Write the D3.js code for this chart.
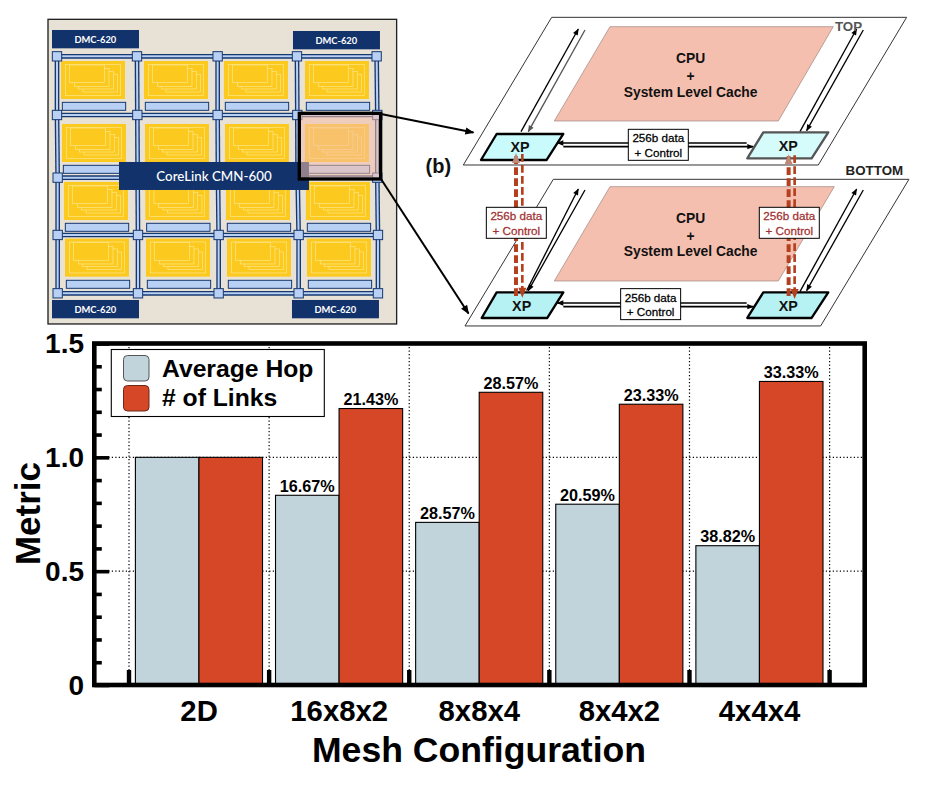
<!DOCTYPE html>
<html><head><meta charset="utf-8">
<script src="https://cdn.jsdelivr.net/npm/d3@7"></script>
<style>
html,body{margin:0;padding:0;background:#fff;overflow:hidden}
svg{display:block}
text{font-family:"Liberation Sans",Arial,sans-serif}
</style></head><body>
<script>
// ---------- chart data ----------
const categories = ["2D","16x8x2","8x8x4","8x4x2","4x4x4"];
const seriesNames = ["Average Hop","# of Links"];
const averageHop = [1.0,0.8333,0.7143,0.7941,0.6118];
const numLinks = [1.0,1.2143,1.2857,1.2333,1.3333];
const hopLabels = ["","16.67%","28.57%","20.59%","38.82%"];
const linkLabels = ["","21.43%","28.57%","23.33%","33.33%"];
const yMajorTicks = [0,0.5,1.0,1.5];
const yMinorTicks = [0.1,0.2,0.3,0.4,0.6,0.7,0.8,0.9,1.1,1.2,1.3,1.4];
const yGridTicks = [0.5,1.0];
const seriesColors = ["#c1d4dc","#d64727"];

// ---------- left schematic (units: 1/3 px) ----------
const meshRows = [
  {y:139,xs:[51,291,533,771,1010]},
  {y:315,xs:[51,292,533,772,1012]},
  {y:503,xs:[53,293,534,773,1012]},
  {y:675,xs:[53,294,536,776,1014]},
  {y:850,xs:[53,294,536,776,1014]}];
const tileRows = [
  {y:153,barY:277,xs:[63,312,552,795]},
  {y:342,barY:466,xs:[66,315,555,795]},
  {y:516,barY:640,xs:[72,316,558,798]},
  {y:686,barY:811,xs:[75,318,561,801]}];
const tileStack = [[66,40],[53,31],[40,23],[26,12]];
const dmcBoxes = [[36,60],[759,63],[36,870],[756,870]];

// ---------- right schematic (units: 1/3 px) ----------
const planes = [
  [[425,22],[1490,22],[1225,465],[160,465]],
  [[430,508],[1497,508],[1232,948],[165,948]]];
const cachePanels = [
  {pts:[[600,50],[1270,50],[1105,333],[433,333]],x:842,ys:[145,200,247]},
  {pts:[[600,530],[1273,530],[1105,813],[433,813]],x:842,ys:[625,678,724]}];
const xpNodes = [
  {pts:[[260,372],[460,372],[410,450],[213,450]],tx:330,ty:412,fill:"#c9fbfd",stroke:"#000"},
  {pts:[[1060,367],[1255,367],[1205,445],[1012,445]],tx:1135,ty:408,fill:"#d6fbfb",stroke:"#555"},
  {pts:[[260,847],[460,847],[412,924],[215,924]],tx:335,ty:887,fill:"#b6f2f4",stroke:"#000"},
  {pts:[[1060,847],[1255,847],[1205,924],[1012,924]],tx:1135,ty:887,fill:"#b6f2f4",stroke:"#000"}];
const planeArrows = [
  [333,365,505,57,"#000"],[525,60,355,365,"#555"],
  [1170,365,1340,57,"#000"],[1360,60,1190,362,"#000"],
  [350,842,505,537,"#000"],[525,540,355,842,"#000"],
  [1170,845,1340,537,"#000"],[1360,540,1190,842,"#000"]];
const busArrows = [
  [1010,399,442,399],[460,410,1030,410],
  [1010,879,442,879],[460,890,1030,890]];
const verticalLinks = [
  {x:318,y1:858,y2:432,w:12,head:"aL"},{x:337,y1:432,y2:860,w:8,head:"aR"},
  {x:1136,y1:858,y2:436,w:12,head:"aL"},{x:1154,y1:436,y2:864,w:8,head:"aR"}];
const dataBoxes = [
  {x:655,y:358,color:"#000"},{x:632,y:836,color:"#000"},
  {x:229,y:592,color:"#a23232"},{x:1048,y:592,color:"#a23232"}];

// ---------- page ----------
const W=928,H=786;
const svg=d3.select("body").append("svg").attr("width",W).attr("height",H);
svg.append("rect").attr("width",W).attr("height",H).attr("fill","#fff");
const defs=svg.append("defs");
function marker(id,color,mw,mh){
  defs.append("marker").attr("id",id).attr("viewBox","0 0 10 10").attr("refX",9).attr("refY",5)
    .attr("markerUnits","userSpaceOnUse").attr("markerWidth",mw).attr("markerHeight",mh).attr("orient","auto")
    .append("path").attr("d","M0,1L10,5L0,9Z").attr("fill",color);
}
marker("aK","#000",24,20);marker("aG","#555",24,20);marker("aR","#b5401f",34,30);marker("aL","#c08878",34,30);
marker("aBigS","#000",11,9);
const mid={"#000":"aK","#555":"aG"};
const poly=p=>p.map(d=>d.join(",")).join(" ");

// ---------- left schematic ----------
const L=svg.append("g").attr("transform","translate(40,10) scale(0.3333)");
L.append("rect").attr("x",24).attr("y",28).attr("width",1046).attr("height",914)
  .attr("fill","#e8e1d5").attr("stroke","#222").attr("stroke-width",4);
L.selectAll(".dmc").data(dmcBoxes).join("g").each(function(d){
  const g=d3.select(this);
  g.append("rect").attr("x",d[0]).attr("y",d[1]).attr("width",261).attr("height",55).attr("fill","#12326b");
  g.append("text").attr("x",d[0]+130).attr("y",d[1]+38).attr("text-anchor","middle")
    .attr("fill","#fff").attr("font-size",28).attr("font-weight",700).style("font-family","Lato").text("DMC-620");
});
const linkNavy="#17386f",linkLight="#b9d0f5";
function meshLine(a,b){
  L.append("line").attr("x1",a[0]).attr("y1",a[1]).attr("x2",b[0]).attr("y2",b[1]).attr("stroke",linkNavy).attr("stroke-width",14);
  L.append("line").attr("x1",a[0]).attr("y1",a[1]).attr("x2",b[0]).attr("y2",b[1]).attr("stroke",linkLight).attr("stroke-width",6);
}
meshRows.forEach((r,i)=>{
  d3.pairs(r.xs).forEach(p=>meshLine([p[0],r.y],[p[1],r.y]));
  if(i<meshRows.length-1) r.xs.forEach((x,j)=>meshLine([x,r.y],[meshRows[i+1].xs[j],meshRows[i+1].y]));
});
tileRows.forEach(r=>r.xs.forEach(x=>{
  const g=L.append("g");
  g.append("rect").attr("x",x).attr("y",r.y).attr("width",192).attr("height",114).attr("fill","#fcc91f");
  g.append("rect").attr("x",x+13).attr("y",r.y+10).attr("width",165).attr("height",93)
    .attr("fill","none").attr("stroke","#fde88e").attr("stroke-width",2);
  tileStack.forEach(q=>{
    g.append("rect").attr("x",x+q[0]).attr("y",r.y+q[1]).attr("width",104).attr("height",53)
      .attr("fill","#fcc91f").attr("stroke","#fde88e").attr("stroke-width",2);
  });
  g.append("rect").attr("x",x+4).attr("y",r.barY).attr("width",190).attr("height",24)
    .attr("fill",linkLight).attr("stroke",linkNavy).attr("stroke-width",3);
}));
meshRows.forEach(r=>r.xs.forEach(x=>{
  L.append("rect").attr("x",x-14).attr("y",r.y-14).attr("width",28).attr("height",28)
    .attr("fill",linkLight).attr("stroke",linkNavy).attr("stroke-width",3);
}));
L.append("rect").attr("x",237).attr("y",456).attr("width",570).attr("height",84).attr("fill","#12326b");
L.append("text").attr("x",522).attr("y",514).attr("text-anchor","middle").attr("fill","#fff")
  .attr("font-size",40).attr("font-weight",500).style("font-family","Lato").text("CoreLink CMN-600");
L.append("rect").attr("x",778).attr("y",310).attr("width",244).attr("height",197)
  .attr("fill","#f5bda8").attr("fill-opacity",0.56).attr("stroke","#000").attr("stroke-width",10);

// ---------- right schematic ----------
const R=svg.append("g").attr("transform","translate(410,10) scale(0.3333)");
R.selectAll(".plane").data(planes).join("polygon").attr("points",poly)
  .attr("fill","#fff").attr("stroke","#333").attr("stroke-width",3);
R.selectAll(".panel").data(cachePanels).join("polygon").attr("points",d=>poly(d.pts))
  .attr("fill","#f5bfb0").attr("stroke","#9a8078").attr("stroke-width",2);
cachePanels.forEach(c=>{
  ["CPU","+","System Level Cache"].forEach((t,i)=>{
    R.append("text").attr("x",c.x).attr("y",c.ys[i]+14).attr("text-anchor","middle")
      .attr("font-size",41.5).attr("font-weight",700).attr("fill","#111").text(t);
  });
});
R.selectAll(".pa").data(planeArrows).join("line")
  .attr("x1",d=>d[0]).attr("y1",d=>d[1]).attr("x2",d=>d[2]).attr("y2",d=>d[3])
  .attr("stroke",d=>d[4]).attr("stroke-width",4).attr("marker-end",d=>`url(#${mid[d[4]]})`);
R.selectAll(".ba").data(busArrows).join("line")
  .attr("x1",d=>d[0]).attr("y1",d=>d[1]).attr("x2",d=>d[2]).attr("y2",d=>d[3])
  .attr("stroke","#000").attr("stroke-width",5).attr("marker-end","url(#aK)");
R.selectAll(".xp").data(xpNodes).join("polygon").attr("points",d=>poly(d.pts))
  .attr("fill",d=>d.fill).attr("stroke",d=>d.stroke).attr("stroke-width",7).attr("stroke-linejoin","round");
R.selectAll(".xpt").data(xpNodes).join("text").attr("x",d=>d.tx).attr("y",d=>d.ty+15)
  .attr("text-anchor","middle").attr("font-size",43).attr("font-weight",700).attr("fill","#111").text("XP");
R.selectAll(".vl").data(verticalLinks).join("line")
  .attr("x1",d=>d.x).attr("y1",d=>d.y1).attr("x2",d=>d.x).attr("y2",d=>d.y2)
  .attr("stroke","#b5401f").attr("stroke-width",d=>d.w).attr("stroke-dasharray","23 10")
  .attr("marker-end",d=>`url(#${d.head})`);
dataBoxes.forEach(b=>{
  R.append("rect").attr("x",b.x).attr("y",b.y).attr("width",180).attr("height",93)
    .attr("fill","#fff").attr("stroke","#000").attr("stroke-width",3);
  ["256b data","+ Control"].forEach((t,i)=>{
    R.append("text").attr("x",b.x+90).attr("y",b.y+39+i*43).attr("text-anchor","middle")
      .attr("font-size",35).attr("fill",b.color).attr("stroke",b.color).attr("stroke-width",0.8).text(t);
  });
});
R.append("text").attr("x",85).attr("y",490).attr("text-anchor","middle").attr("font-size",60).attr("font-weight",700).attr("fill","#111").text("(b)");
R.append("text").attr("x",1275).attr("y",62).attr("font-size",40).attr("font-weight",700).attr("fill","#555").text("TOP");
R.append("text").attr("x",1307).attr("y",495).attr("font-size",40).attr("font-weight",700).attr("fill","#222").text("BOTTOM");
svg.append("line").attr("x1",381).attr("y1",114).attr("x2",473.5).attr("y2",132.5)
  .attr("stroke","#000").attr("stroke-width",2).attr("marker-end","url(#aBigS)");
svg.append("line").attr("x1",381).attr("y1",179).attr("x2",468.5).attr("y2",313.5)
  .attr("stroke","#000").attr("stroke-width",2).attr("marker-end","url(#aBigS)");

// ---------- bar chart ----------
const frame={l:94.3,r:864.7,t:343.5,b:685};
const x=d3.scaleBand().domain(categories).range([129,829.6]);
const xSub=d3.scaleBand().domain(seriesNames).range([6.4,x.bandwidth()-6.6]);
const y=d3.scaleLinear().domain([0,1.5]).range([frame.b,frame.t]);
const edges=categories.map(c=>x(c)).concat([x.range()[1]]);
const chart=svg.append("g");
// grid
chart.selectAll(".gy").data(yGridTicks).join("line")
  .attr("x1",frame.l).attr("x2",frame.r).attr("y1",y).attr("y2",y)
  .attr("stroke","#000").attr("stroke-width",1.2).attr("stroke-dasharray","1.2 2.3");
chart.selectAll(".gx").data(edges).join("line")
  .attr("x1",d=>d).attr("x2",d=>d).attr("y1",frame.t).attr("y2",frame.b)
  .attr("stroke","#000").attr("stroke-width",1.2).attr("stroke-dasharray","1.2 2.3");
// bars
[averageHop,numLinks].forEach((vals,s)=>{
  chart.append("g").selectAll("rect").data(vals).join("rect")
    .attr("x",(d,i)=>x(categories[i])+xSub(seriesNames[s]))
    .attr("width",xSub.bandwidth())
    .attr("y",d=>y(d)).attr("height",d=>y(0)-y(d))
    .attr("fill",seriesColors[s]).attr("stroke","#000").attr("stroke-width",1.1);
});
// bar value labels
[[averageHop,hopLabels],[numLinks,linkLabels]].forEach((pair,s)=>{
  chart.append("g").selectAll("text").data(pair[1]).join("text")
    .attr("x",(d,i)=>x(categories[i])+xSub(seriesNames[s])+xSub.bandwidth()/2)
    .attr("y",(d,i)=>y(pair[0][i])-3.4)
    .attr("text-anchor","middle").attr("font-size",16.2).attr("font-weight",700).attr("fill","#000").text(d=>d);
});
// y axis
const yAxis=chart.append("g").attr("transform",`translate(${frame.l},0)`);
yAxis.call(d3.axisRight(y).tickValues(yMajorTicks).tickSize(15).tickFormat(""));
yAxis.select(".domain").remove();
yAxis.selectAll("line").attr("stroke","#000").attr("stroke-width",3.6);
const yMinor=chart.append("g").attr("transform",`translate(${frame.l},0)`);
yMinor.call(d3.axisRight(y).tickValues(yMinorTicks).tickSize(7.5).tickFormat(""));
yMinor.select(".domain").remove();
yMinor.selectAll("line").attr("stroke","#000").attr("stroke-width",3.6);
chart.append("g").selectAll("text").data(yMajorTicks).join("text")
  .attr("x",84).attr("y",d=>y(d)+9.5).attr("text-anchor","end")
  .attr("font-size",28).attr("font-weight",700).attr("fill","#000")
  .text(d=>d===0?"0":d.toFixed(1));
// x axis
chart.selectAll(".xt").data(edges).join("line")
  .attr("x1",d=>d).attr("x2",d=>d).attr("y1",frame.b).attr("y2",frame.b-15)
  .attr("stroke","#000").attr("stroke-width",4.4);
const xAxis=chart.append("g").attr("transform",`translate(0,${frame.b})`)
  .call(d3.axisBottom(x).tickSize(0).tickPadding(15));
xAxis.select(".domain").remove();
xAxis.selectAll("text").attr("font-size",29.3).attr("font-weight",700).attr("fill","#000")
  .style("font-family",'"Liberation Sans"');
// frame
chart.append("rect").attr("x",frame.l).attr("y",frame.t).attr("width",frame.r-frame.l).attr("height",frame.b-frame.t)
  .attr("fill","none").attr("stroke","#000").attr("stroke-width",4.6);
// legend
const leg=chart.append("g");
leg.append("rect").attr("x",111.3).attr("y",349.5).attr("width",213).attr("height",67)
  .attr("fill","#fff").attr("stroke","#000").attr("stroke-width",1.1);
seriesNames.forEach((n,i)=>{
  leg.append("rect").attr("x",123.5).attr("y",355.5+i*30).attr("width",25.5).attr("height",25.5).attr("rx",4)
    .attr("fill",seriesColors[i]).attr("stroke",i?"#6a2a18":"#555").attr("stroke-width",1);
  leg.append("text").attr("x",162).attr("y",376.5+i*29.5).attr("font-size",24.7).attr("font-weight",700).attr("fill","#000").text(n);
});
// axis titles
chart.append("text").attr("transform","translate(40,513.5) rotate(-90)").attr("text-anchor","middle")
  .attr("font-size",35).attr("font-weight",700).attr("fill","#000").text("Metric");
chart.append("text").attr("x",479).attr("y",762).attr("text-anchor","middle")
  .attr("font-size",35.6).attr("font-weight",700).attr("fill","#000").text("Mesh Configuration");
</script>
</body></html>
